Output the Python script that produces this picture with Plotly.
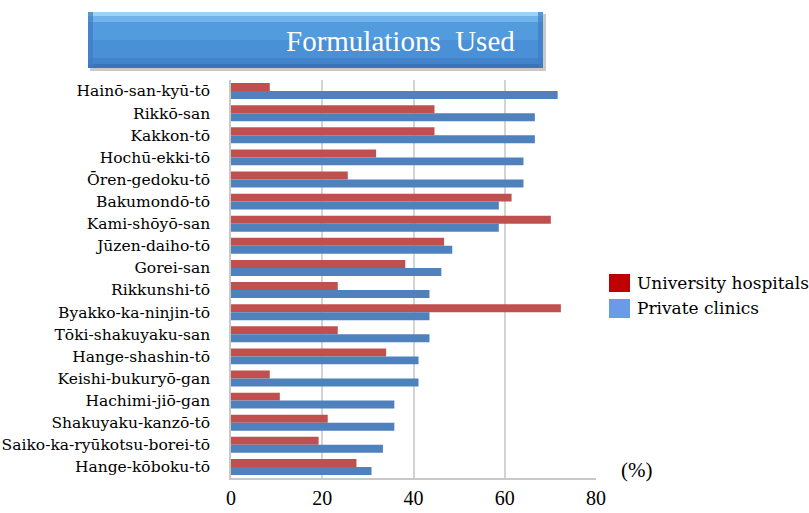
import plotly.graph_objects as go

categories = ["Hainō-san-kyū-tō", "Rikkō-san", "Kakkon-tō", "Hochū-ekki-tō", "Ōren-gedoku-tō",
              "Bakumondō-tō", "Kami-shōyō-san", "Jūzen-daiho-tō", "Gorei-san", "Rikkunshi-tō",
              "Byakko-ka-ninjin-tō", "Tōki-shakuyaku-san", "Hange-shashin-tō", "Keishi-bukuryō-gan",
              "Hachimi-jiō-gan", "Shakuyaku-kanzō-tō", "Saiko-ka-ryūkotsu-borei-tō", "Hange-kōboku-tō"]
university = [8.5, 44.6, 44.6, 31.8, 25.6, 61.5, 70.1, 46.7, 38.2, 23.4,
              72.3, 23.4, 34.0, 8.5, 10.7, 21.2, 19.2, 27.5]
private = [71.6, 66.6, 66.6, 64.1, 64.1, 58.7, 58.7, 48.5, 46.1, 43.5,
           43.5, 43.5, 41.1, 41.1, 35.8, 35.8, 33.3, 30.8]
series_names = ["University hospitals", "Private clinics"]
x_ticks = [0, 20, 40, 60, 80]
title_text = "Formulations\u00a0\u00a0Used"
unit_text = "(%)"

W, H = 809, 513
L, R, T, B = 231, 596, 80, 478


def px(x):
    return (x - L) / (R - L)


def py(y):
    return (B - y) / (B - T)


fig = go.Figure()
fig.add_trace(go.Bar(y=categories, x=university, name=series_names[0], orientation="h",
                     marker=dict(color="#c0504d", line=dict(width=0)), showlegend=False))
fig.add_trace(go.Bar(y=categories, x=private, name=series_names[1], orientation="h",
                     marker=dict(color="#4f81bd", line=dict(width=0)), showlegend=False))

shapes = []
# banner with a simple stepped gradient
shapes.append(dict(type="rect", xref="paper", yref="paper", x0=px(90), x1=px(546), y0=py(71), y1=py(14),
                   fillcolor="#c9c9c9", line=dict(width=0), layer="above"))
grad = [(12, 16, "#9fd3f4"), (16, 22, "#6fb3ea"), (22, 40, "#529bdd"), (40, 58, "#4a90d6"), (58, 64, "#4383cb"), (64, 68, "#3a74b8")]
for y0, y1, c in grad:
    shapes.append(dict(type="rect", xref="paper", yref="paper", x0=px(88), x1=px(543), y0=py(y1), y1=py(y0),
                       fillcolor=c, line=dict(width=0), layer="above"))
# bevel edges
shapes.append(dict(type="rect", xref="paper", yref="paper", x0=px(88), x1=px(93), y0=py(68), y1=py(12),
                   fillcolor="#3f7cc2", line=dict(width=0), layer="above", opacity=0.7))
shapes.append(dict(type="rect", xref="paper", yref="paper", x0=px(538), x1=px(543), y0=py(68), y1=py(12),
                   fillcolor="#3f7cc2", line=dict(width=0), layer="above", opacity=0.7))
# legend squares
shapes.append(dict(type="rect", xref="paper", yref="paper", x0=px(609), x1=px(630), y0=py(292), y1=py(274),
                   fillcolor="#c00000", line=dict(width=0)))
shapes.append(dict(type="rect", xref="paper", yref="paper", x0=px(609), x1=px(630), y0=py(318), y1=py(299),
                   fillcolor="#6a9be8", line=dict(width=0)))

annotations = [
    dict(text=title_text, xref="paper", yref="paper", x=px(400), y=py(41), showarrow=False,
         font=dict(family="Liberation Serif", size=29, color="white"), xanchor="center", yanchor="middle"),
    dict(text=series_names[0], xref="paper", yref="paper", x=px(635), y=py(283), showarrow=False,
         font=dict(family="DejaVu Serif", size=17, color="black"), xanchor="left", yanchor="middle"),
    dict(text=series_names[1], xref="paper", yref="paper", x=px(635), y=py(308), showarrow=False,
         font=dict(family="DejaVu Serif", size=17, color="black"), xanchor="left", yanchor="middle"),
    dict(text=unit_text, xref="paper", yref="paper", x=px(636), y=py(470), showarrow=False,
         font=dict(family="Liberation Serif", size=21, color="black"), xanchor="center", yanchor="middle"),
]

fig.update_layout(
    width=W, height=H,
    margin=dict(l=L, r=W - R, t=T, b=H - B, autoexpand=False),
    paper_bgcolor="white", plot_bgcolor="white",
    barmode="group", bargap=0.28, bargroupgap=0,
    shapes=shapes, annotations=annotations,
    showlegend=False,
    xaxis=dict(range=[0, 80], tickvals=x_ticks, showgrid=True, gridcolor="#d4d4d4", gridwidth=1.5,
               showline=True, linecolor="#c8c8c8", linewidth=1.5, zeroline=False, automargin=False,
               tickfont=dict(family="Liberation Serif", size=20, color="black"), ticks="",
               ticklabelstandoff=1, fixedrange=True),
    yaxis=dict(categoryorder="array", categoryarray=categories, autorange="reversed",
               showline=True, linecolor="#c8c8c8", linewidth=1.5, showgrid=False, automargin=False,
               tickfont=dict(family="DejaVu Serif", size=15.5, color="black"), ticks="",
               ticklabelstandoff=16, fixedrange=True),
)

fig.write_html("out.html", config={"displayModeBar": False},
               post_script="document.body.style.margin='0';document.body.style.overflow='hidden';")
